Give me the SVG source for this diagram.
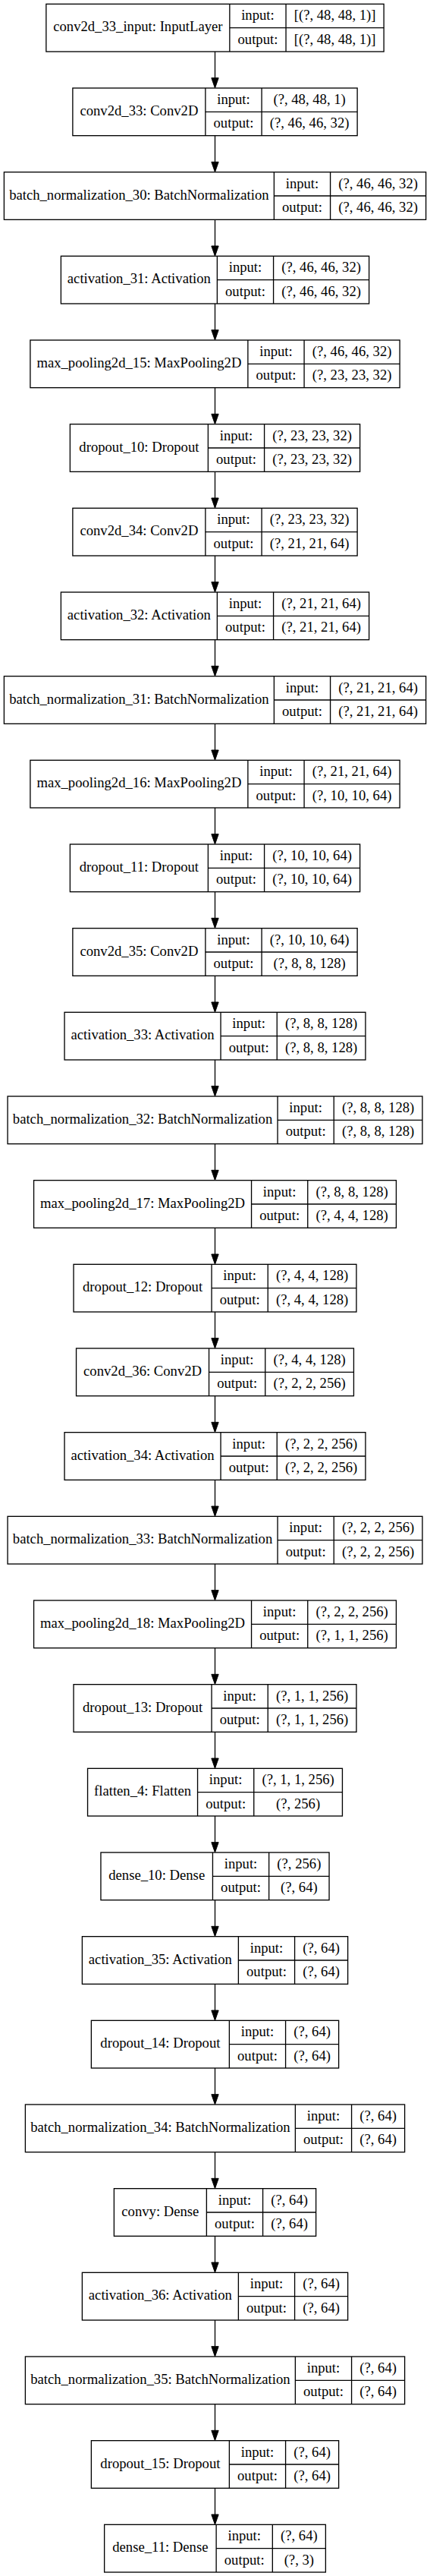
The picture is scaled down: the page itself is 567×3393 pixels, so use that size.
<svg xmlns="http://www.w3.org/2000/svg" width="567" height="3393" viewBox="0 0 567 3393">
<style>
.n rect{fill:#fff;stroke:#000;stroke-width:1.33}
.n line{stroke:#000;stroke-width:1.33}
text{font-family:"Liberation Serif","Times New Roman",serif;font-size:18.67px;text-anchor:middle;fill:#000}
#edges line{stroke:#000;stroke-width:1.33}
</style>
<defs>
<marker id="arr" markerUnits="userSpaceOnUse" markerWidth="14" markerHeight="10" refX="0" refY="4.67" orient="auto" viewBox="0 0 14 9.34" overflow="visible">
<path d="M0,0 L13.33,4.67 L0,9.33 Z" fill="#000" stroke="#000" stroke-width="1"/>
</marker>
</defs>
<rect width="567" height="3393" fill="#fff"/>
<g id="edges">
<line x1="283.5" y1="68" x2="283.5" y2="102.67" marker-end="url(#arr)"/>
<line x1="283.5" y1="178.67" x2="283.5" y2="213.33" marker-end="url(#arr)"/>
<line x1="283.5" y1="289.33" x2="283.5" y2="324" marker-end="url(#arr)"/>
<line x1="283.5" y1="400" x2="283.5" y2="434.67" marker-end="url(#arr)"/>
<line x1="283.5" y1="510.67" x2="283.5" y2="545.33" marker-end="url(#arr)"/>
<line x1="283.5" y1="621.33" x2="283.5" y2="656" marker-end="url(#arr)"/>
<line x1="283.5" y1="732" x2="283.5" y2="766.67" marker-end="url(#arr)"/>
<line x1="283.5" y1="842.67" x2="283.5" y2="877.33" marker-end="url(#arr)"/>
<line x1="283.5" y1="953.33" x2="283.5" y2="988" marker-end="url(#arr)"/>
<line x1="283.5" y1="1064" x2="283.5" y2="1098.67" marker-end="url(#arr)"/>
<line x1="283.5" y1="1174.67" x2="283.5" y2="1209.33" marker-end="url(#arr)"/>
<line x1="283.5" y1="1285.33" x2="283.5" y2="1320" marker-end="url(#arr)"/>
<line x1="283.5" y1="1396" x2="283.5" y2="1430.67" marker-end="url(#arr)"/>
<line x1="283.5" y1="1506.67" x2="283.5" y2="1541.33" marker-end="url(#arr)"/>
<line x1="283.5" y1="1617.33" x2="283.5" y2="1652" marker-end="url(#arr)"/>
<line x1="283.5" y1="1728" x2="283.5" y2="1762.67" marker-end="url(#arr)"/>
<line x1="283.5" y1="1838.67" x2="283.5" y2="1873.33" marker-end="url(#arr)"/>
<line x1="283.5" y1="1949.33" x2="283.5" y2="1984" marker-end="url(#arr)"/>
<line x1="283.5" y1="2060" x2="283.5" y2="2094.67" marker-end="url(#arr)"/>
<line x1="283.5" y1="2170.67" x2="283.5" y2="2205.33" marker-end="url(#arr)"/>
<line x1="283.5" y1="2281.33" x2="283.5" y2="2316" marker-end="url(#arr)"/>
<line x1="283.5" y1="2392" x2="283.5" y2="2426.67" marker-end="url(#arr)"/>
<line x1="283.5" y1="2502.67" x2="283.5" y2="2537.33" marker-end="url(#arr)"/>
<line x1="283.5" y1="2613.33" x2="283.5" y2="2648" marker-end="url(#arr)"/>
<line x1="283.5" y1="2724" x2="283.5" y2="2758.67" marker-end="url(#arr)"/>
<line x1="283.5" y1="2834.67" x2="283.5" y2="2869.33" marker-end="url(#arr)"/>
<line x1="283.5" y1="2945.33" x2="283.5" y2="2980" marker-end="url(#arr)"/>
<line x1="283.5" y1="3056" x2="283.5" y2="3090.67" marker-end="url(#arr)"/>
<line x1="283.5" y1="3166.67" x2="283.5" y2="3201.33" marker-end="url(#arr)"/>
<line x1="283.5" y1="3277.33" x2="283.5" y2="3312" marker-end="url(#arr)"/>
</g>

<g id="conv2d_33_input" class="n" transform="translate(60.85,5.33)">
<rect width="445.3" height="62.67"/><line x1="242" y1="0" x2="242" y2="62.67"/><line x1="316.2" y1="0" x2="316.2" y2="62.67"/><line x1="242" y1="31.33" x2="445.3" y2="31.33"/>
<text x="121" y="36">conv2d_33_input: InputLayer</text><text x="279.1" y="21">input:</text><text x="279.1" y="52.3">output:</text>
<text x="380.75" y="21">[(?, 48, 48, 1)]</text><text x="380.75" y="52.3">[(?, 48, 48, 1)]</text>
</g>

<g id="conv2d_33" class="n" transform="translate(95.88,116)">
<rect width="375.25" height="62.67"/><line x1="175" y1="0" x2="175" y2="62.67"/><line x1="249.2" y1="0" x2="249.2" y2="62.67"/><line x1="175" y1="31.33" x2="375.25" y2="31.33"/>
<text x="87.5" y="36">conv2d_33: Conv2D</text><text x="212.1" y="21">input:</text><text x="212.1" y="52.3">output:</text>
<text x="312.23" y="21">(?, 48, 48, 1)</text><text x="312.23" y="52.3">(?, 46, 46, 32)</text>
</g>

<g id="batch_normalization_30" class="n" transform="translate(5.38,226.67)">
<rect width="556.25" height="62.67"/><line x1="356" y1="0" x2="356" y2="62.67"/><line x1="430.2" y1="0" x2="430.2" y2="62.67"/><line x1="356" y1="31.33" x2="556.25" y2="31.33"/>
<text x="178" y="36">batch_normalization_30: BatchNormalization</text><text x="393.1" y="21">input:</text><text x="393.1" y="52.3">output:</text>
<text x="493.23" y="21">(?, 46, 46, 32)</text><text x="493.23" y="52.3">(?, 46, 46, 32)</text>
</g>

<g id="activation_31" class="n" transform="translate(80.38,337.33)">
<rect width="406.25" height="62.67"/><line x1="206" y1="0" x2="206" y2="62.67"/><line x1="280.2" y1="0" x2="280.2" y2="62.67"/><line x1="206" y1="31.33" x2="406.25" y2="31.33"/>
<text x="103" y="36">activation_31: Activation</text><text x="243.1" y="21">input:</text><text x="243.1" y="52.3">output:</text>
<text x="343.23" y="21">(?, 46, 46, 32)</text><text x="343.23" y="52.3">(?, 46, 46, 32)</text>
</g>

<g id="max_pooling2d_15" class="n" transform="translate(39.88,448)">
<rect width="487.25" height="62.67"/><line x1="287" y1="0" x2="287" y2="62.67"/><line x1="361.2" y1="0" x2="361.2" y2="62.67"/><line x1="287" y1="31.33" x2="487.25" y2="31.33"/>
<text x="143.5" y="36">max_pooling2d_15: MaxPooling2D</text><text x="324.1" y="21">input:</text><text x="324.1" y="52.3">output:</text>
<text x="424.23" y="21">(?, 46, 46, 32)</text><text x="424.23" y="52.3">(?, 23, 23, 32)</text>
</g>

<g id="dropout_10" class="n" transform="translate(92.38,558.67)">
<rect width="382.25" height="62.67"/><line x1="182" y1="0" x2="182" y2="62.67"/><line x1="256.2" y1="0" x2="256.2" y2="62.67"/><line x1="182" y1="31.33" x2="382.25" y2="31.33"/>
<text x="91" y="36">dropout_10: Dropout</text><text x="219.1" y="21">input:</text><text x="219.1" y="52.3">output:</text>
<text x="319.23" y="21">(?, 23, 23, 32)</text><text x="319.23" y="52.3">(?, 23, 23, 32)</text>
</g>

<g id="conv2d_34" class="n" transform="translate(95.88,669.33)">
<rect width="375.25" height="62.67"/><line x1="175" y1="0" x2="175" y2="62.67"/><line x1="249.2" y1="0" x2="249.2" y2="62.67"/><line x1="175" y1="31.33" x2="375.25" y2="31.33"/>
<text x="87.5" y="36">conv2d_34: Conv2D</text><text x="212.1" y="21">input:</text><text x="212.1" y="52.3">output:</text>
<text x="312.23" y="21">(?, 23, 23, 32)</text><text x="312.23" y="52.3">(?, 21, 21, 64)</text>
</g>

<g id="activation_32" class="n" transform="translate(80.38,780)">
<rect width="406.25" height="62.67"/><line x1="206" y1="0" x2="206" y2="62.67"/><line x1="280.2" y1="0" x2="280.2" y2="62.67"/><line x1="206" y1="31.33" x2="406.25" y2="31.33"/>
<text x="103" y="36">activation_32: Activation</text><text x="243.1" y="21">input:</text><text x="243.1" y="52.3">output:</text>
<text x="343.23" y="21">(?, 21, 21, 64)</text><text x="343.23" y="52.3">(?, 21, 21, 64)</text>
</g>

<g id="batch_normalization_31" class="n" transform="translate(5.38,890.67)">
<rect width="556.25" height="62.67"/><line x1="356" y1="0" x2="356" y2="62.67"/><line x1="430.2" y1="0" x2="430.2" y2="62.67"/><line x1="356" y1="31.33" x2="556.25" y2="31.33"/>
<text x="178" y="36">batch_normalization_31: BatchNormalization</text><text x="393.1" y="21">input:</text><text x="393.1" y="52.3">output:</text>
<text x="493.23" y="21">(?, 21, 21, 64)</text><text x="493.23" y="52.3">(?, 21, 21, 64)</text>
</g>

<g id="max_pooling2d_16" class="n" transform="translate(39.88,1001.33)">
<rect width="487.25" height="62.67"/><line x1="287" y1="0" x2="287" y2="62.67"/><line x1="361.2" y1="0" x2="361.2" y2="62.67"/><line x1="287" y1="31.33" x2="487.25" y2="31.33"/>
<text x="143.5" y="36">max_pooling2d_16: MaxPooling2D</text><text x="324.1" y="21">input:</text><text x="324.1" y="52.3">output:</text>
<text x="424.23" y="21">(?, 21, 21, 64)</text><text x="424.23" y="52.3">(?, 10, 10, 64)</text>
</g>

<g id="dropout_11" class="n" transform="translate(92.38,1112)">
<rect width="382.25" height="62.67"/><line x1="182" y1="0" x2="182" y2="62.67"/><line x1="256.2" y1="0" x2="256.2" y2="62.67"/><line x1="182" y1="31.33" x2="382.25" y2="31.33"/>
<text x="91" y="36">dropout_11: Dropout</text><text x="219.1" y="21">input:</text><text x="219.1" y="52.3">output:</text>
<text x="319.23" y="21">(?, 10, 10, 64)</text><text x="319.23" y="52.3">(?, 10, 10, 64)</text>
</g>

<g id="conv2d_35" class="n" transform="translate(95.88,1222.67)">
<rect width="375.25" height="62.67"/><line x1="175" y1="0" x2="175" y2="62.67"/><line x1="249.2" y1="0" x2="249.2" y2="62.67"/><line x1="175" y1="31.33" x2="375.25" y2="31.33"/>
<text x="87.5" y="36">conv2d_35: Conv2D</text><text x="212.1" y="21">input:</text><text x="212.1" y="52.3">output:</text>
<text x="312.23" y="21">(?, 10, 10, 64)</text><text x="312.23" y="52.3">(?, 8, 8, 128)</text>
</g>

<g id="activation_33" class="n" transform="translate(85.05,1333.33)">
<rect width="396.9" height="62.67"/><line x1="206" y1="0" x2="206" y2="62.67"/><line x1="280.2" y1="0" x2="280.2" y2="62.67"/><line x1="206" y1="31.33" x2="396.9" y2="31.33"/>
<text x="103" y="36">activation_33: Activation</text><text x="243.1" y="21">input:</text><text x="243.1" y="52.3">output:</text>
<text x="338.55" y="21">(?, 8, 8, 128)</text><text x="338.55" y="52.3">(?, 8, 8, 128)</text>
</g>

<g id="batch_normalization_32" class="n" transform="translate(10.05,1444)">
<rect width="546.9" height="62.67"/><line x1="356" y1="0" x2="356" y2="62.67"/><line x1="430.2" y1="0" x2="430.2" y2="62.67"/><line x1="356" y1="31.33" x2="546.9" y2="31.33"/>
<text x="178" y="36">batch_normalization_32: BatchNormalization</text><text x="393.1" y="21">input:</text><text x="393.1" y="52.3">output:</text>
<text x="488.55" y="21">(?, 8, 8, 128)</text><text x="488.55" y="52.3">(?, 8, 8, 128)</text>
</g>

<g id="max_pooling2d_17" class="n" transform="translate(44.55,1554.67)">
<rect width="477.9" height="62.67"/><line x1="287" y1="0" x2="287" y2="62.67"/><line x1="361.2" y1="0" x2="361.2" y2="62.67"/><line x1="287" y1="31.33" x2="477.9" y2="31.33"/>
<text x="143.5" y="36">max_pooling2d_17: MaxPooling2D</text><text x="324.1" y="21">input:</text><text x="324.1" y="52.3">output:</text>
<text x="419.55" y="21">(?, 8, 8, 128)</text><text x="419.55" y="52.3">(?, 4, 4, 128)</text>
</g>

<g id="dropout_12" class="n" transform="translate(97.05,1665.33)">
<rect width="372.9" height="62.67"/><line x1="182" y1="0" x2="182" y2="62.67"/><line x1="256.2" y1="0" x2="256.2" y2="62.67"/><line x1="182" y1="31.33" x2="372.9" y2="31.33"/>
<text x="91" y="36">dropout_12: Dropout</text><text x="219.1" y="21">input:</text><text x="219.1" y="52.3">output:</text>
<text x="314.55" y="21">(?, 4, 4, 128)</text><text x="314.55" y="52.3">(?, 4, 4, 128)</text>
</g>

<g id="conv2d_36" class="n" transform="translate(100.55,1776)">
<rect width="365.9" height="62.67"/><line x1="175" y1="0" x2="175" y2="62.67"/><line x1="249.2" y1="0" x2="249.2" y2="62.67"/><line x1="175" y1="31.33" x2="365.9" y2="31.33"/>
<text x="87.5" y="36">conv2d_36: Conv2D</text><text x="212.1" y="21">input:</text><text x="212.1" y="52.3">output:</text>
<text x="307.55" y="21">(?, 4, 4, 128)</text><text x="307.55" y="52.3">(?, 2, 2, 256)</text>
</g>

<g id="activation_34" class="n" transform="translate(85.05,1886.67)">
<rect width="396.9" height="62.67"/><line x1="206" y1="0" x2="206" y2="62.67"/><line x1="280.2" y1="0" x2="280.2" y2="62.67"/><line x1="206" y1="31.33" x2="396.9" y2="31.33"/>
<text x="103" y="36">activation_34: Activation</text><text x="243.1" y="21">input:</text><text x="243.1" y="52.3">output:</text>
<text x="338.55" y="21">(?, 2, 2, 256)</text><text x="338.55" y="52.3">(?, 2, 2, 256)</text>
</g>

<g id="batch_normalization_33" class="n" transform="translate(10.05,1997.33)">
<rect width="546.9" height="62.67"/><line x1="356" y1="0" x2="356" y2="62.67"/><line x1="430.2" y1="0" x2="430.2" y2="62.67"/><line x1="356" y1="31.33" x2="546.9" y2="31.33"/>
<text x="178" y="36">batch_normalization_33: BatchNormalization</text><text x="393.1" y="21">input:</text><text x="393.1" y="52.3">output:</text>
<text x="488.55" y="21">(?, 2, 2, 256)</text><text x="488.55" y="52.3">(?, 2, 2, 256)</text>
</g>

<g id="max_pooling2d_18" class="n" transform="translate(44.55,2108)">
<rect width="477.9" height="62.67"/><line x1="287" y1="0" x2="287" y2="62.67"/><line x1="361.2" y1="0" x2="361.2" y2="62.67"/><line x1="287" y1="31.33" x2="477.9" y2="31.33"/>
<text x="143.5" y="36">max_pooling2d_18: MaxPooling2D</text><text x="324.1" y="21">input:</text><text x="324.1" y="52.3">output:</text>
<text x="419.55" y="21">(?, 2, 2, 256)</text><text x="419.55" y="52.3">(?, 1, 1, 256)</text>
</g>

<g id="dropout_13" class="n" transform="translate(97.05,2218.67)">
<rect width="372.9" height="62.67"/><line x1="182" y1="0" x2="182" y2="62.67"/><line x1="256.2" y1="0" x2="256.2" y2="62.67"/><line x1="182" y1="31.33" x2="372.9" y2="31.33"/>
<text x="91" y="36">dropout_13: Dropout</text><text x="219.1" y="21">input:</text><text x="219.1" y="52.3">output:</text>
<text x="314.55" y="21">(?, 1, 1, 256)</text><text x="314.55" y="52.3">(?, 1, 1, 256)</text>
</g>

<g id="flatten_4" class="n" transform="translate(115.55,2329.33)">
<rect width="335.9" height="62.67"/><line x1="145" y1="0" x2="145" y2="62.67"/><line x1="219.2" y1="0" x2="219.2" y2="62.67"/><line x1="145" y1="31.33" x2="335.9" y2="31.33"/>
<text x="72.5" y="36">flatten_4: Flatten</text><text x="182.1" y="21">input:</text><text x="182.1" y="52.3">output:</text>
<text x="277.55" y="21">(?, 1, 1, 256)</text><text x="277.55" y="52.3">(?, 256)</text>
</g>

<g id="dense_10" class="n" transform="translate(132.95,2440)">
<rect width="301.1" height="62.67"/><line x1="147.5" y1="0" x2="147.5" y2="62.67"/><line x1="221.7" y1="0" x2="221.7" y2="62.67"/><line x1="147.5" y1="31.33" x2="301.1" y2="31.33"/>
<text x="73.75" y="36">dense_10: Dense</text><text x="184.6" y="21">input:</text><text x="184.6" y="52.3">output:</text>
<text x="261.4" y="21">(?, 256)</text><text x="261.4" y="52.3">(?, 64)</text>
</g>

<g id="activation_35" class="n" transform="translate(108.38,2550.67)">
<rect width="350.25" height="62.67"/><line x1="206" y1="0" x2="206" y2="62.67"/><line x1="280.2" y1="0" x2="280.2" y2="62.67"/><line x1="206" y1="31.33" x2="350.25" y2="31.33"/>
<text x="103" y="36">activation_35: Activation</text><text x="243.1" y="21">input:</text><text x="243.1" y="52.3">output:</text>
<text x="315.23" y="21">(?, 64)</text><text x="315.23" y="52.3">(?, 64)</text>
</g>

<g id="dropout_14" class="n" transform="translate(120.38,2661.33)">
<rect width="326.25" height="62.67"/><line x1="182" y1="0" x2="182" y2="62.67"/><line x1="256.2" y1="0" x2="256.2" y2="62.67"/><line x1="182" y1="31.33" x2="326.25" y2="31.33"/>
<text x="91" y="36">dropout_14: Dropout</text><text x="219.1" y="21">input:</text><text x="219.1" y="52.3">output:</text>
<text x="291.23" y="21">(?, 64)</text><text x="291.23" y="52.3">(?, 64)</text>
</g>

<g id="batch_normalization_34" class="n" transform="translate(33.38,2772)">
<rect width="500.25" height="62.67"/><line x1="356" y1="0" x2="356" y2="62.67"/><line x1="430.2" y1="0" x2="430.2" y2="62.67"/><line x1="356" y1="31.33" x2="500.25" y2="31.33"/>
<text x="178" y="36">batch_normalization_34: BatchNormalization</text><text x="393.1" y="21">input:</text><text x="393.1" y="52.3">output:</text>
<text x="465.23" y="21">(?, 64)</text><text x="465.23" y="52.3">(?, 64)</text>
</g>

<g id="convy" class="n" transform="translate(150.38,2882.67)">
<rect width="266.25" height="62.67"/><line x1="122" y1="0" x2="122" y2="62.67"/><line x1="196.2" y1="0" x2="196.2" y2="62.67"/><line x1="122" y1="31.33" x2="266.25" y2="31.33"/>
<text x="61" y="36">convy: Dense</text><text x="159.1" y="21">input:</text><text x="159.1" y="52.3">output:</text>
<text x="231.23" y="21">(?, 64)</text><text x="231.23" y="52.3">(?, 64)</text>
</g>

<g id="activation_36" class="n" transform="translate(108.38,2993.33)">
<rect width="350.25" height="62.67"/><line x1="206" y1="0" x2="206" y2="62.67"/><line x1="280.2" y1="0" x2="280.2" y2="62.67"/><line x1="206" y1="31.33" x2="350.25" y2="31.33"/>
<text x="103" y="36">activation_36: Activation</text><text x="243.1" y="21">input:</text><text x="243.1" y="52.3">output:</text>
<text x="315.23" y="21">(?, 64)</text><text x="315.23" y="52.3">(?, 64)</text>
</g>

<g id="batch_normalization_35" class="n" transform="translate(33.38,3104)">
<rect width="500.25" height="62.67"/><line x1="356" y1="0" x2="356" y2="62.67"/><line x1="430.2" y1="0" x2="430.2" y2="62.67"/><line x1="356" y1="31.33" x2="500.25" y2="31.33"/>
<text x="178" y="36">batch_normalization_35: BatchNormalization</text><text x="393.1" y="21">input:</text><text x="393.1" y="52.3">output:</text>
<text x="465.23" y="21">(?, 64)</text><text x="465.23" y="52.3">(?, 64)</text>
</g>

<g id="dropout_15" class="n" transform="translate(120.38,3214.67)">
<rect width="326.25" height="62.67"/><line x1="182" y1="0" x2="182" y2="62.67"/><line x1="256.2" y1="0" x2="256.2" y2="62.67"/><line x1="182" y1="31.33" x2="326.25" y2="31.33"/>
<text x="91" y="36">dropout_15: Dropout</text><text x="219.1" y="21">input:</text><text x="219.1" y="52.3">output:</text>
<text x="291.23" y="21">(?, 64)</text><text x="291.23" y="52.3">(?, 64)</text>
</g>

<g id="dense_11" class="n" transform="translate(137.63,3325.33)">
<rect width="291.75" height="62.67"/><line x1="147.5" y1="0" x2="147.5" y2="62.67"/><line x1="221.7" y1="0" x2="221.7" y2="62.67"/><line x1="147.5" y1="31.33" x2="291.75" y2="31.33"/>
<text x="73.75" y="36">dense_11: Dense</text><text x="184.6" y="21">input:</text><text x="184.6" y="52.3">output:</text>
<text x="256.73" y="21">(?, 64)</text><text x="256.73" y="52.3">(?, 3)</text>
</g>
</svg>
